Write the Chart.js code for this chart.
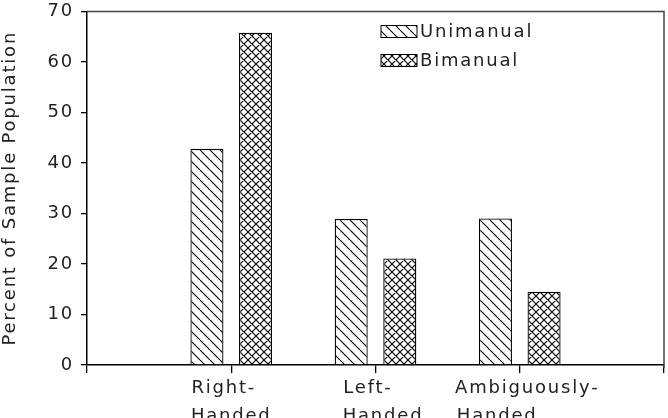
<!DOCTYPE html>
<html>
<head>
<meta charset="utf-8">
<script src="https://cdn.jsdelivr.net/npm/chart.js@4"></script>
<style>
  body { margin: 0; background: #fff; }
  #wrap { width: 668px; height: 418px; }
</style>
</head>
<body>
<div id="wrap"><canvas id="myChart" width="668" height="418"></canvas></div>
<script>
// Categories (empty slots at both ends so the axis runs past the groups)
const categories = ['', ['Right-  ', 'Handed'], ['  Left-    ', '  Handed'], ['  Ambiguously-', '  Handed        '], ''];
// Percent of sample population
const unimanual = [null, 42.8, 28.9, 29.0, null];
const bimanual = [null, 65.8, 21.1, 14.5, null];
const yTicks = [0, 10, 20, 30, 40, 50, 60, 70];

const FONT = 'DejaVu Sans';
const INK = '#222';
const SPACING = '1.8px'; // the original lettering is wide

// hatch pattern: '\' lines, optionally crossed with '/'
function hatch(size, cross) {
    const c = document.createElement('canvas');
    c.width = size; c.height = size;
    const g = c.getContext('2d');
    g.fillStyle = '#fff';
    g.fillRect(0, 0, size, size);
    g.strokeStyle = '#000';
    g.lineWidth = 1.1;
    g.beginPath();
    for (const k of [-size, 0, size]) {
        g.moveTo(k, 0); g.lineTo(k + size, size);
        if (cross) { g.moveTo(k, size); g.lineTo(k + size, 0); }
    }
    g.stroke();
    return g.createPattern(c, 'repeat');
}
const uniFill = hatch(10, false);
const biFill = hatch(8, true);

const spacingPlugin = {
    id: 'spacing',
    beforeUpdate(chart) { chart.ctx.letterSpacing = SPACING; },
    beforeDraw(chart) { chart.ctx.letterSpacing = SPACING; }
};

// box round the plot plus the legend inside it
const framePlugin = {
    id: 'frame',
    afterDatasetsDraw(chart) {
        const { ctx, chartArea: a } = chart;
        ctx.save();
        ctx.strokeStyle = '#444';
        ctx.lineWidth = 1.5;
        ctx.beginPath();
        ctx.moveTo(a.left, a.top);
        ctx.lineTo(a.right, a.top);
        ctx.lineTo(a.right, a.bottom + 3);
        ctx.stroke();

        // legend
        const x0 = a.left + 294;
        let y0 = a.top + 14;
        ctx.font = '18px ' + FONT;
        ctx.textBaseline = 'middle';
        chart.data.datasets.forEach(ds => {
            ctx.fillStyle = ds.backgroundColor;
            ctx.fillRect(x0, y0, 36, 12);
            ctx.strokeStyle = '#000';
            ctx.lineWidth = 1;
            ctx.strokeRect(x0, y0, 36, 12);
            ctx.fillStyle = INK;
            ctx.fillText(ds.label, x0 + 39, y0 + 7);
            y0 += 29;
        });
        ctx.restore();
    }
};

const ctx = document.getElementById('myChart').getContext('2d');
const myChart = new Chart(ctx, {
    type: 'bar',
    data: {
        labels: categories,
        datasets: [{
            label: 'Unimanual',
            data: unimanual,
            backgroundColor: uniFill,
            borderColor: '#000',
            borderWidth: 1.3,
            categoryPercentage: 0.674,
            barPercentage: 0.68
        }, {
            label: 'Bimanual',
            data: bimanual,
            backgroundColor: biFill,
            borderColor: '#000',
            borderWidth: 1.3,
            categoryPercentage: 0.674,
            barPercentage: 0.68
        }]
    },
    options: {
        responsive: false,
        animation: false,
        layout: { padding: { top: 11, right: 4, left: 0, bottom: 0 } },
        plugins: {
            legend: { display: false },
            tooltip: { enabled: false }
        },
        scales: {
            x: {
                offset: false,
                grid: { offset: false, drawOnChartArea: false, tickLength: 8, color: '#000', lineWidth: 1.3 },
                border: { color: '#000', width: 1.5 },
                ticks: {
                    autoSkip: false, maxRotation: 0, padding: 1,
                    color: INK, font: { family: FONT, size: 18, lineHeight: 1.55 }
                },
                afterFit: s => { s.height = 53; }
            },
            y: {
                min: 0, max: 70,
                afterBuildTicks: s => { s.ticks = yTicks.map(v => ({ value: v })); },
                grid: { drawOnChartArea: false, tickLength: 6, color: '#000', lineWidth: 1.3 },
                border: { color: '#000', width: 1.5 },
                ticks: { padding: 7, color: INK, font: { family: FONT, size: 18, lineHeight: 0.5 } },
                title: {
                    display: true,
                    text: 'Percent of Sample Population',
                    color: INK,
                    font: { family: FONT, size: 18 },
                    padding: { top: 0, bottom: 0 }
                },
                afterFit: s => { s.width = 87; }
            }
        }
    },
    plugins: [spacingPlugin, framePlugin]
});
</script>
</body>
</html>
